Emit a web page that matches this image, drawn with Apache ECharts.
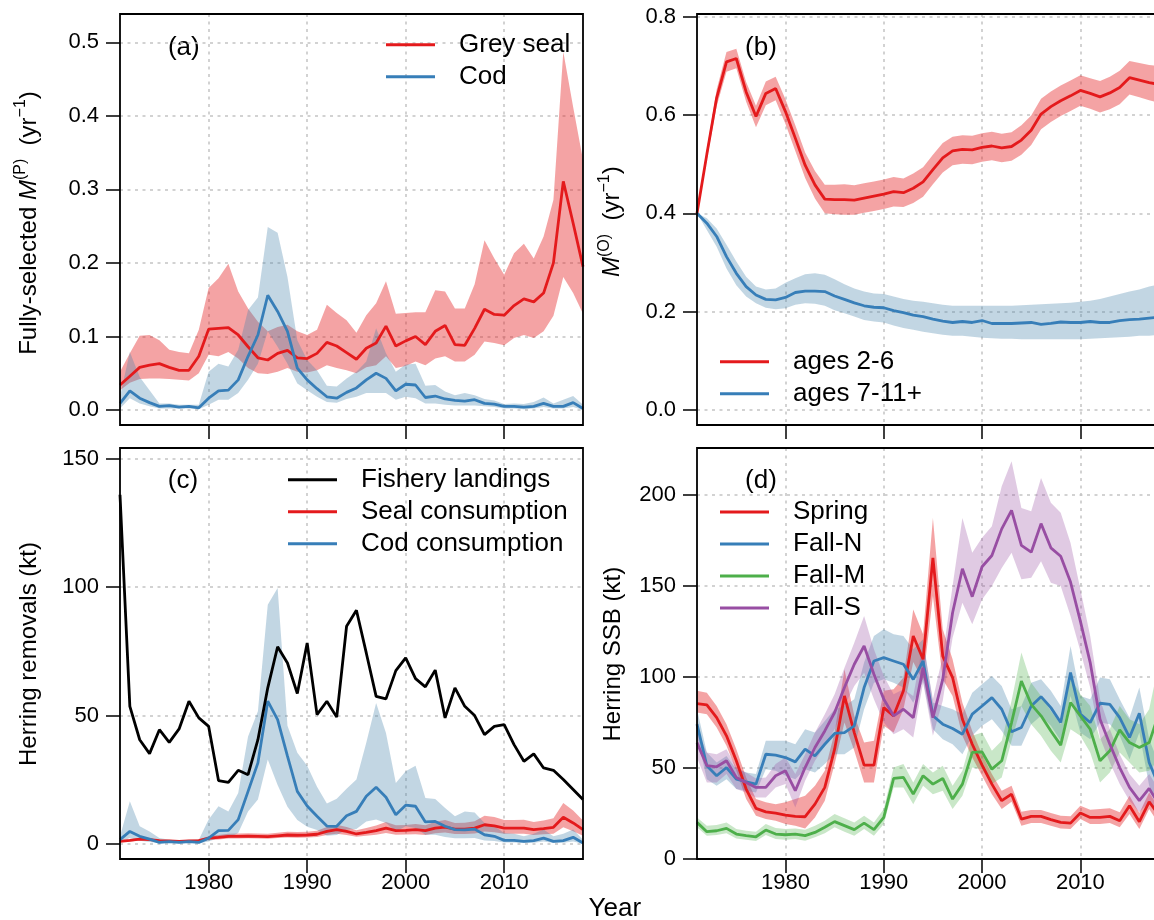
<!DOCTYPE html>
<html>
<head>
<meta charset="utf-8">
<script src="https://cdn.jsdelivr.net/npm/echarts@6/dist/echarts.min.js"></script>
<style>
html,body{margin:0;padding:0;background:#fff;}
#chart{width:1154px;height:920px;}
</style>
</head>
<body>
<div id="chart"></div>
<script>
// ---------------- data ----------------
const years = [1971,1972,1973,1974,1975,1976,1977,1978,1979,1980,
  1981,1982,1983,1984,1985,1986,1987,1988,1989,1990,
  1991,1992,1993,1994,1995,1996,1997,1998,1999,2000,
  2001,2002,2003,2004,2005,2006,2007,2008,2009,2010,
  2011,2012,2013,2014,2015,2016,2017,2018];
const xTicks = [1980,1990,2000,2010];

// (a) fully-selected M(P)
const sealM = [0.034,0.046,0.058,0.061,0.063,0.058,0.054,0.054,0.073,0.110,
  0.111,0.112,0.102,0.086,0.071,0.068,0.077,0.081,0.071,0.070,
  0.077,0.092,0.087,0.078,0.069,0.084,0.091,0.114,0.087,0.094,
  0.100,0.089,0.107,0.115,0.089,0.088,0.111,0.137,0.130,0.129,
  0.142,0.151,0.147,0.159,0.200,0.311,0.254,0.195];
const sealMLo = [0.027,0.037,0.042,0.043,0.043,0.042,0.041,0.040,0.050,0.075,
  0.073,0.079,0.070,0.057,0.050,0.049,0.052,0.057,0.052,0.051,
  0.054,0.061,0.057,0.054,0.050,0.058,0.061,0.073,0.057,0.060,
  0.066,0.061,0.070,0.073,0.066,0.066,0.075,0.093,0.091,0.088,
  0.098,0.102,0.098,0.107,0.128,0.181,0.159,0.131];
const sealMHi = [0.052,0.077,0.101,0.102,0.095,0.082,0.079,0.077,0.109,0.166,
  0.179,0.199,0.161,0.138,0.120,0.107,0.113,0.116,0.107,0.102,
  0.109,0.143,0.132,0.122,0.105,0.129,0.145,0.175,0.131,0.132,
  0.133,0.133,0.163,0.161,0.138,0.138,0.171,0.231,0.206,0.184,
  0.213,0.226,0.206,0.236,0.286,0.487,0.412,0.340];
const codM = [0.009,0.026,0.016,0.010,0.005,0.006,0.004,0.005,0.003,0.016,
  0.026,0.027,0.041,0.073,0.102,0.156,0.134,0.107,0.057,0.041,
  0.029,0.018,0.016,0.024,0.030,0.041,0.050,0.043,0.026,0.035,
  0.034,0.017,0.019,0.015,0.013,0.012,0.014,0.009,0.008,0.005,
  0.005,0.004,0.005,0.009,0.005,0.005,0.010,0.002];
const codMLo = [0.002,0.016,0.009,0.005,0.002,0.002,0.002,0.002,0.001,0.007,
  0.014,0.014,0.023,0.041,0.063,0.107,0.086,0.063,0.036,0.027,
  0.018,0.011,0.010,0.015,0.018,0.023,0.023,0.023,0.014,0.018,
  0.016,0.009,0.009,0.007,0.006,0.006,0.006,0.005,0.004,0.002,
  0.002,0.001,0.002,0.004,0.002,0.002,0.004,0.000];
const codMHi = [0.018,0.079,0.045,0.027,0.009,0.009,0.007,0.007,0.007,0.052,
  0.063,0.059,0.082,0.136,0.153,0.249,0.241,0.181,0.095,0.068,
  0.054,0.033,0.032,0.043,0.052,0.066,0.111,0.077,0.052,0.062,
  0.063,0.033,0.034,0.025,0.020,0.023,0.020,0.015,0.013,0.008,
  0.009,0.008,0.011,0.017,0.009,0.014,0.019,0.007];

// (b) M(O)
const ages26 = [0.400,0.520,0.635,0.708,0.715,0.647,0.597,0.644,0.654,0.607,
  0.553,0.498,0.458,0.429,0.428,0.428,0.427,0.431,0.435,0.439,
  0.444,0.442,0.451,0.464,0.489,0.513,0.527,0.530,0.529,0.534,
  0.537,0.533,0.536,0.549,0.569,0.602,0.617,0.629,0.639,0.650,
  0.644,0.637,0.645,0.656,0.676,0.671,0.666,0.662];
const ages26Lo = [0.400,0.510,0.618,0.688,0.695,0.627,0.575,0.620,0.630,0.582,
  0.527,0.472,0.430,0.400,0.398,0.397,0.397,0.401,0.405,0.409,
  0.414,0.413,0.421,0.434,0.459,0.483,0.498,0.501,0.500,0.505,
  0.508,0.504,0.507,0.519,0.539,0.571,0.586,0.598,0.608,0.619,
  0.613,0.605,0.612,0.622,0.642,0.636,0.630,0.625];
const ages26Hi = [0.400,0.530,0.652,0.728,0.735,0.667,0.619,0.668,0.678,0.632,
  0.579,0.524,0.486,0.458,0.458,0.459,0.457,0.461,0.465,0.469,
  0.474,0.471,0.481,0.494,0.519,0.543,0.556,0.559,0.558,0.563,
  0.566,0.562,0.565,0.579,0.599,0.633,0.648,0.660,0.670,0.681,
  0.675,0.669,0.678,0.690,0.710,0.706,0.702,0.699];
const ages711 = [0.400,0.380,0.353,0.312,0.278,0.251,0.234,0.225,0.224,0.229,
  0.239,0.242,0.242,0.241,0.232,0.225,0.218,0.212,0.209,0.208,
  0.202,0.198,0.193,0.190,0.185,0.181,0.178,0.180,0.178,0.182,
  0.176,0.176,0.176,0.177,0.178,0.174,0.176,0.179,0.178,0.178,
  0.180,0.178,0.178,0.182,0.184,0.185,0.187,0.189];
const ages711Lo = [0.400,0.366,0.332,0.288,0.254,0.231,0.217,0.208,0.205,0.207,
  0.214,0.217,0.216,0.212,0.203,0.197,0.190,0.183,0.180,0.178,
  0.172,0.167,0.163,0.159,0.156,0.153,0.151,0.151,0.149,0.147,
  0.146,0.145,0.145,0.144,0.144,0.144,0.144,0.144,0.144,0.144,
  0.145,0.146,0.147,0.148,0.149,0.151,0.151,0.153];
const ages711Hi = [0.400,0.390,0.369,0.336,0.302,0.271,0.251,0.245,0.247,0.259,
  0.268,0.276,0.278,0.275,0.266,0.256,0.247,0.241,0.237,0.236,
  0.231,0.226,0.222,0.220,0.217,0.214,0.212,0.212,0.212,0.212,
  0.212,0.212,0.212,0.213,0.214,0.215,0.216,0.217,0.218,0.220,
  0.222,0.226,0.231,0.236,0.241,0.245,0.251,0.256];

// (c) herring removals (kt)
const landings = [136,53.6,40.6,35.2,44.5,39.6,44.8,55.6,49.1,45.8,
  24.7,24.0,28.7,27.0,40.6,60.8,76.8,70.5,58.6,78.3,
  50.4,55.6,49.4,84.8,91.0,74.4,57.5,56.5,67.5,72.5,
  64.4,61.2,67.7,49.1,60.8,53.6,50.0,42.6,45.8,46.5,
  38.7,32.2,35.1,29.6,28.7,25.1,21.2,17.3];
const sealCons = [1.0,1.4,1.9,1.7,1.3,1.2,1.0,1.2,1.3,2.3,
  2.6,3.0,3.0,3.1,3.0,2.9,3.2,3.5,3.4,3.5,
  3.8,4.9,5.6,4.9,3.9,4.5,5.2,6.2,5.2,5.3,
  5.6,5.2,6.2,6.6,5.8,5.8,6.2,7.5,7.1,6.2,
  6.2,6.2,5.6,6.0,6.5,10.4,8.2,5.6];
const sealConsLo = [0.7,1.0,1.4,1.3,0.9,0.8,0.7,0.8,0.9,1.6,
  1.8,2.1,2.1,2.2,2.1,2.0,2.3,2.5,2.4,2.5,
  2.7,3.5,4.0,3.5,2.8,3.2,3.6,4.3,3.6,3.7,
  3.8,3.5,4.2,4.5,3.9,3.9,4.1,4.9,4.6,4.0,
  4.0,4.0,3.5,3.8,4.0,6.5,5.0,3.2];
const sealConsHi = [1.3,1.8,2.4,2.2,1.7,1.6,1.4,1.6,1.8,3.0,
  3.5,4.0,4.1,4.2,4.1,4.0,4.4,4.8,4.7,4.8,
  5.2,6.6,7.5,6.6,5.4,6.2,7.2,8.6,7.3,7.4,
  7.8,7.3,8.7,9.3,8.2,8.3,8.9,11.0,10.5,9.3,
  9.3,9.4,8.6,9.2,10.0,16.0,13.0,9.2];
const codCons = [1.7,4.9,3.0,1.9,0.6,0.9,0.6,0.9,0.6,2.3,
  5.2,5.3,9.5,20.5,31.6,55.6,48.4,34.2,20.5,14.8,
  10.8,7.0,6.9,11.0,12.7,18.6,22.1,18.2,11.4,15.1,
  14.7,8.6,8.8,6.9,5.6,5.5,5.8,3.6,3.0,1.4,
  1.4,1.0,1.3,2.3,1.0,1.3,2.6,0.4];
const codConsLo = [0.8,2.3,1.3,0.8,0.3,0.4,0.3,0.4,0.3,1.0,
  2.3,2.3,4.3,12.7,17.3,32.9,23.0,14.5,9.3,6.7,
  5.5,3.2,3.5,5.6,5.8,8.8,9.5,8.2,4.9,6.9,
  6.2,3.6,3.6,2.7,2.2,2.2,2.3,1.4,1.2,0.6,
  0.6,0.4,0.5,1.0,0.4,0.5,1.0,0.1];
const codConsHi = [3.0,16.6,6.9,4.9,2.3,1.7,1.4,1.7,1.7,9.5,
  14.7,12.7,19.9,41.9,51.7,93.2,99.7,46.0,35.5,30.5,
  22.3,15.8,17.6,21.5,25.1,39.4,54.9,43.2,23.8,28.3,
  30.5,17.9,17.5,14.0,10.8,12.7,12.3,8.2,6.9,4.3,
  4.0,3.0,4.0,5.6,3.0,4.0,5.6,1.7];

// (d) herring SSB (kt)
const spring = [85.3,84.6,77.6,67.6,53.9,38.4,27.8,25.9,25.2,24.1,
  23.4,23.2,30.1,39.3,60.3,89.5,69.4,51.5,51.5,83.1,
  78.6,92.3,122.4,109.6,165.3,111.4,99.6,76.7,63.0,51.5,
  41.1,32.0,35.6,21.9,23.4,23.4,21.6,20.1,19.7,25.2,
  22.8,22.8,23.4,21.0,29.2,20.5,31.4,24.0];
const springLo = [80.4,79.5,72.2,62.1,48.4,32.9,23.7,21.9,21.0,19.2,
  18.3,16.8,22.8,32.0,52.1,74.9,59.4,42.0,42.0,73.1,
  69.4,82.2,108.1,97.7,144.3,98.6,89.5,67.6,55.7,45.7,
  35.6,27.4,31.4,18.3,19.7,19.7,18.3,16.8,16.4,21.9,
  19.2,19.2,19.7,17.4,24.7,16.4,27.4,19.0];
const springHi = [92.3,91.3,84.0,74.0,60.3,44.8,32.9,31.1,30.1,31.1,
  32.9,34.7,40.2,48.4,69.4,104.1,78.6,63.9,64.9,92.3,
  93.2,99.6,137.0,123.3,187.2,126.1,109.6,85.8,70.3,57.5,
  46.6,37.5,40.2,25.9,26.9,26.9,25.2,23.7,23.4,29.2,
  27.0,27.4,27.8,25.6,34.7,25.2,36.5,28.0];
const fallN = [74.0,51.2,45.7,50.2,43.8,42.4,41.1,57.5,57.0,55.7,
  53.3,60.3,56.6,63.0,68.9,69.4,73.1,94.1,108.7,110.5,
  108.7,106.9,98.6,108.7,78.6,74.0,71.6,68.5,79.5,84.0,
  88.6,82.2,69.8,72.2,84.0,89.1,83.1,74.9,102.3,79.5,
  74.9,85.5,84.9,77.6,66.7,80.0,53.0,40.0];
const fallNLo = [67.6,43.8,40.2,43.8,38.4,37.5,36.5,49.3,48.4,45.7,
  43.8,49.3,47.5,52.1,57.5,57.5,61.2,82.2,96.8,98.6,
  96.8,94.1,85.8,97.7,71.2,65.8,63.0,57.5,67.6,73.1,
  76.7,70.3,62.1,62.1,74.0,78.6,73.1,64.9,89.5,69.4,
  65.8,74.9,74.0,67.6,54.8,69.4,40.2,28.0];
const fallNHi = [82.2,58.5,53.0,56.6,49.3,47.5,46.6,64.9,64.9,64.9,
  63.0,71.2,69.4,75.8,82.2,84.0,87.7,107.8,122.4,126.1,
  123.3,122.4,115.1,120.6,85.9,84.0,82.2,79.5,91.3,95.9,
  100.5,95.0,82.2,84.0,96.8,98.6,92.3,84.0,116.9,89.5,
  87.7,99.6,98.6,87.7,77.6,94.1,65.8,52.0];
const fallM = [20.1,15.0,15.5,16.8,13.7,12.8,12.2,15.9,13.7,13.3,
  13.7,12.8,14.6,17.4,20.5,18.3,16.1,19.7,16.1,22.8,
  44.2,44.8,35.6,45.7,41.1,44.2,32.9,41.1,58.5,58.8,
  49.3,53.9,74.9,97.7,84.9,78.6,70.3,62.5,85.9,78.6,
  71.2,53.9,59.4,70.9,63.9,61.2,63.9,80.0];
const fallMLo = [17.4,12.8,13.2,14.2,11.3,10.6,9.9,13.2,11.0,10.6,
  11.0,10.0,11.9,14.2,17.4,15.0,12.8,16.4,12.8,19.2,
  39.3,39.3,30.1,40.2,35.6,37.5,27.4,34.7,50.2,49.3,
  41.1,44.8,64.9,84.0,74.0,67.6,59.4,53.0,71.2,67.6,
  58.5,42.0,47.5,58.5,53.0,47.5,48.4,55.0];
const fallMHi = [22.8,18.3,18.6,20.1,16.4,15.5,15.0,19.2,17.0,16.4,
  16.8,16.1,18.3,21.0,24.7,22.3,20.1,23.7,20.1,27.4,
  50.2,52.1,42.0,52.1,47.5,51.2,40.2,48.4,67.6,69.4,
  59.4,64.9,86.8,113.3,96.8,89.5,81.3,74.0,99.6,90.4,
  84.0,65.8,71.2,84.0,76.7,74.0,82.2,108.0];
const fallS = [63.9,51.2,50.6,53.9,44.8,42.0,39.3,39.3,45.7,48.4,
  37.5,50.2,61.2,70.3,80.4,94.1,106.9,116.9,101.4,87.7,
  78.6,82.2,77.6,105.0,77.6,98.6,135.2,159.3,144.0,160.4,
  166.6,181.2,191.4,172.1,168.4,184.1,170.8,166.2,152.0,130.6,
  107.8,76.7,63.0,50.2,39.3,32.0,38.7,30.0];
const fallSLo = [55.7,42.0,42.0,46.6,38.4,36.5,33.8,33.8,39.3,41.1,
  28.3,42.9,53.9,62.1,71.2,84.0,95.0,102.3,87.7,74.9,
  68.5,71.2,66.7,96.8,67.6,86.8,121.5,140.7,128.8,142.5,
  149.8,159.8,168.1,153.5,154.4,163.5,151.6,149.8,133.4,114.2,
  94.1,66.7,53.0,41.1,32.0,25.6,31.1,22.0];
const fallSHi = [71.2,58.5,57.5,60.3,50.2,47.5,44.2,44.8,52.1,55.7,
  46.6,57.5,69.4,79.5,90.4,105.0,118.7,133.4,115.1,100.5,
  90.4,93.2,89.5,118.7,87.7,111.4,149.8,187.2,168.1,176.3,
  182.7,204.6,218.3,192.7,190.9,209.2,195.5,190.0,173.5,148.0,
  122.4,87.7,71.2,57.5,46.6,40.2,46.6,38.0];

// y tick values per panel
const yTicksA = [0,0.1,0.2,0.3,0.4,0.5];
const yTicksB = [0,0.2,0.4,0.6,0.8];
const yTicksC = [0,50,100,150];
const yTicksD = [0,50,100,150,200];

// ---------------- style ----------------
const FONT = '"Liberation Sans", Arial, Helvetica, sans-serif';
const RED = '#E41A1C', BLUE = '#377EB8', GREEN = '#4DAF4A', PURPLE = '#984EA3', BLACK = '#000000';
const BAND_RED = 'rgba(228,26,28,0.40)';
const BAND_BLUE = 'rgba(70,130,170,0.33)';
const BAND_GREEN = 'rgba(77,175,74,0.30)';
const BAND_PURPLE = 'rgba(152,78,163,0.30)';

const gridBoxes = [
  {left: 120, top: 14, width: 463, height: 411},
  {left: 697, top: 14, width: 462, height: 411},
  {left: 120, top: 448, width: 463, height: 411},
  {left: 697, top: 448, width: 462, height: 411}
];
const yRanges = [
  {min: -0.0204, max: 0.5385, ticks: yTicksA, fmt: v => v.toFixed(1)},
  {min: -0.0305, max: 0.8055, ticks: yTicksB, fmt: v => v.toFixed(1)},
  {min: -5.84, max: 154.2, ticks: yTicksC, fmt: v => String(v)},
  {min: 0, max: 225.6, ticks: yTicksD, fmt: v => String(v)}
];

const splitStyle = {color: '#c4c4c4', width: 1.5, type: [3, 4.5]};
const tickStyle = {color: '#000', width: 1.5};

const grid = gridBoxes.map(b => Object.assign({
  show: true, borderColor: '#000', borderWidth: 1.8, backgroundColor: 'transparent',
  containLabel: false, outerBoundsMode: 'none', z: 4
}, b));

const xAxis = gridBoxes.map((b, i) => ({
  gridIndex: i, type: 'value', min: 1971, max: 2018,
  axisLine: {show: false, onZero: false},
  axisTick: {show: true, length: 14, lineStyle: tickStyle, customValues: xTicks},
  axisLabel: {show: i >= 2, customValues: xTicks, fontSize: 22, fontFamily: FONT, color: '#000',
              margin: 13, formatter: v => String(v)},
  splitLine: {show: true, lineStyle: splitStyle}
}));

const yAxis = yRanges.map((r, i) => ({
  gridIndex: i, type: 'value', min: r.min, max: r.max,
  axisLine: {show: false, onZero: false},
  axisTick: {show: true, length: 14, lineStyle: tickStyle, customValues: r.ticks},
  axisLabel: {show: true, customValues: r.ticks, fontSize: 22, fontFamily: FONT, color: '#000',
              margin: 21, formatter: r.fmt},
  splitLine: {show: true, lineStyle: splitStyle}
}));

function pairs(arr) { return years.map((y, i) => [y, arr[i]]); }

// confidence band: one polygon through the axis scales (upper edge forward, lower edge back)
function band(id, gi, lo, hi, color) {
  return {
    name: id, type: 'custom', xAxisIndex: gi, yAxisIndex: gi, silent: true, z: 2,
    data: years.map((y, i) => [y, lo[i], hi[i]]),
    encode: {x: 0, y: [1, 2]},
    renderItem: function (params, api) {
      if (params.dataIndex !== 0) return null;
      const n = years.length;
      const pts = [];
      for (let i = 0; i < n; i++) pts.push(api.coord([years[i], hi[i]]));
      for (let i = n - 1; i >= 0; i--) pts.push(api.coord([years[i], lo[i]]));
      const cs = params.coordSys;
      return {
        type: 'polygon', shape: {points: pts}, style: {fill: color, stroke: null},
        clipPath: {type: 'rect', shape: {x: cs.x, y: cs.y, width: cs.width, height: cs.height}}
      };
    }
  };
}
function line(name, gi, arr, color) {
  return {name: name, type: 'line', xAxisIndex: gi, yAxisIndex: gi, data: pairs(arr), symbol: 'none',
          lineStyle: {color: color, width: 2.8}, itemStyle: {color: color}, z: 3};
}

const series = [
  band('seal M band', 0, sealMLo, sealMHi, BAND_RED),
  band('cod M band', 0, codMLo, codMHi, BAND_BLUE),
  line('Grey seal', 0, sealM, RED), line('Cod', 0, codM, BLUE),
  band('ages 2-6 band', 1, ages26Lo, ages26Hi, BAND_RED),
  band('ages 7-11+ band', 1, ages711Lo, ages711Hi, BAND_BLUE),
  line('ages 2-6', 1, ages26, RED), line('ages 7-11+', 1, ages711, BLUE),
  band('seal cons band', 2, sealConsLo, sealConsHi, BAND_RED),
  band('cod cons band', 2, codConsLo, codConsHi, BAND_BLUE),
  line('Seal consumption', 2, sealCons, RED), line('Cod consumption', 2, codCons, BLUE),
  line('Fishery landings', 2, landings, BLACK),
  band('spring band', 3, springLo, springHi, BAND_RED),
  band('fallN band', 3, fallNLo, fallNHi, BAND_BLUE),
  band('fallM band', 3, fallMLo, fallMHi, BAND_GREEN),
  band('fallS band', 3, fallSLo, fallSHi, BAND_PURPLE),
  line('Spring', 3, spring, RED), line('Fall-N', 3, fallN, BLUE),
  line('Fall-M', 3, fallM, GREEN), line('Fall-S', 3, fallS, PURPLE)
];

function legend(names, left, top) {
  return {
    data: names, left: left, top: top, orient: 'vertical', padding: 0,
    itemWidth: 49, itemHeight: 3, itemGap: 0, icon: 'rect', selectedMode: false,
    textStyle: {fontSize: 26, fontFamily: FONT, color: '#000', lineHeight: 32, padding: [0, 0, 0, 19]}
  };
}

const titleRich = {
  n: {fontSize: 24, fontFamily: FONT, fill: '#000', lineHeight: 24},
  i: {fontSize: 24, fontFamily: FONT, fontStyle: 'italic', fill: '#000', lineHeight: 24},
  s: {fontSize: 16, fontFamily: FONT, fill: '#000', lineHeight: 16, padding: [0, 0, 16, 0]}
};
function vtitle(text, x, y) {
  return {type: 'text', x: x, y: y, rotation: Math.PI / 2, silent: true,
          style: {text: text, rich: titleRich, fontSize: 24, fontFamily: FONT, fill: '#000',
                  align: 'center', verticalAlign: 'middle'}};
}
function plain(text, x, y, size) {
  return {type: 'text', x: x, y: y, silent: true,
          style: {text: text, fontSize: size, fontFamily: FONT, fill: '#000', align: 'center', verticalAlign: 'middle'}};
}

const option = {
  animation: false,
  backgroundColor: '#ffffff',
  grid: grid,
  xAxis: xAxis,
  yAxis: yAxis,
  legend: [
    legend(['Grey seal', 'Cod'], 386, 28.7),
    legend(['ages 2-6', 'ages 7-11+'], 720, 345.7),
    legend(['Fishery landings', 'Seal consumption', 'Cod consumption'], 288, 463.7),
    legend(['Spring', 'Fall-N', 'Fall-M', 'Fall-S'], 720, 496)
  ],
  series: series,
  graphic: [
    plain('(a)', 183.8, 47.5, 26),
    plain('(b)', 761, 47.5, 26),
    plain('(c)', 183, 480.5, 26),
    plain('(d)', 761, 480.5, 26),
    plain('Year', 614.8, 909, 26),
    vtitle('{n|Fully-selected }{i|M}{s|(P)}{n|  (yr}{s|\u22121}{n|)}', 28.9, 223),
    vtitle('{i|M}{s|(O)}{n|  (yr}{s|\u22121}{n|)}', 612.8, 221.7),
    vtitle('{n|Herring removals (kt)}', 28.9, 654),
    vtitle('{n|Herring SSB (kt)}', 613.8, 654.2)
  ]
};

const chart = echarts.init(document.getElementById('chart'), null, {renderer: 'canvas', width: 1154, height: 920});
chart.setOption(option);
</script>
</body>
</html>
